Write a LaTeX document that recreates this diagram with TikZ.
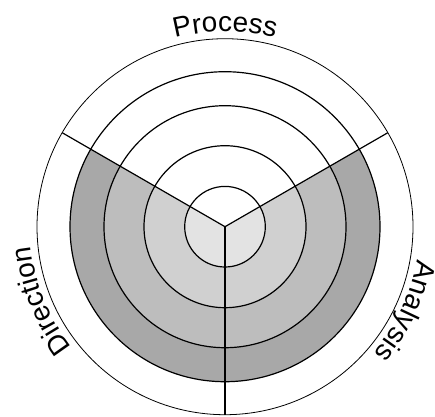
\documentclass[tikz,border=0pt]{standalone}
\usepackage{fontspec}
\newfontfamily\labelfont{Liberation Sans}
\usetikzlibrary{decorations.text}
\definecolor{ringA}{HTML}{E3E3E3}
\definecolor{ringB}{HTML}{D0D0D0}
\definecolor{ringC}{HTML}{BDBDBD}
\definecolor{ringD}{HTML}{A8A8A8}
\tikzset{
  ringline/.style={draw=black, line width=1.2pt},
  outerline/.style={draw=black, line width=0.8pt},
  spoke/.style={draw=black, line width=1.2pt},
  curvelabel/.style={decorate, decoration={text along path, text align=center,
     text={|\labelfont\fontsize{28}{32}\selectfont|#1}}}
}
\begin{document}
\begin{tikzpicture}[x=1pt,y=1pt]
\useasboundingbox (0,0) rectangle (435,-416);
\begin{scope}[shift={(225,-226.7)}]
  \coordinate (c) at (0,0);
  % shaded sectors
  \fill[ringD] (c) -- (150:155) arc (150:390:155) -- cycle;
  \fill[ringC] (c) -- (150:121) arc (150:390:121) -- cycle;
  \fill[ringB] (c) -- (150:81) arc (150:390:81) -- cycle;
  \fill[ringA] (c) -- (150:40.3) arc (150:390:40.3) -- cycle;
  % circles
  \draw[outerline] (c) circle (188);
  \draw[ringline] (c) circle (155);
  \draw[ringline] (c) circle (121);
  \draw[ringline] (c) circle (81);
  \draw[ringline] (c) circle (40.3);
  % spokes
  \coordinate (e1) at (30:188);
  \coordinate (e2) at (150:188);
  \coordinate (e3) at (270:188);
  \draw[spoke] (c) -- (e1);
  \draw[spoke] (c) -- (e2);
  \draw[spoke] (c) -- (e3);
  % labels
  \path[curvelabel={Process}] (135:195) arc (135:45:195);
  \path[curvelabel={Analysis}] (20:195) arc (20:-70:195);
  \path[curvelabel={Direction}] (247:195) arc (247:157:195);
\end{scope}
\end{tikzpicture}
\end{document}
